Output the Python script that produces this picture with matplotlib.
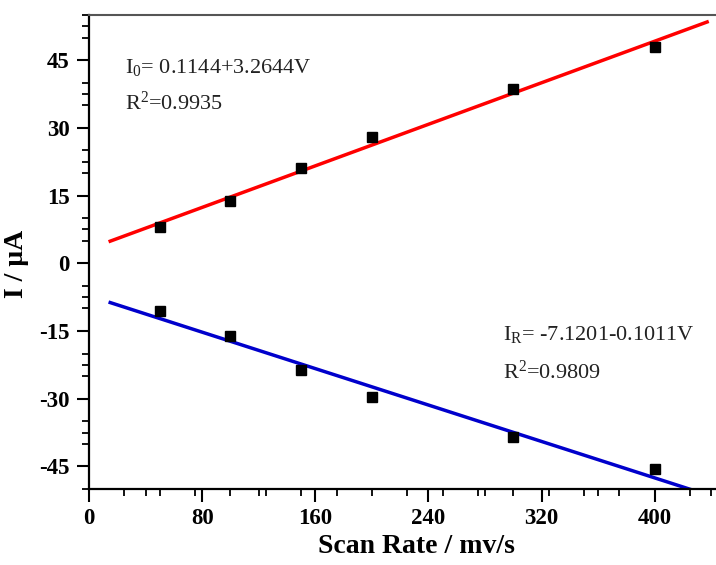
import numpy as np
import matplotlib
matplotlib.use("Agg")
from matplotlib import pyplot as plt
from matplotlib.ticker import FixedLocator

# datos
scan_rate = [50, 100, 150, 200, 300, 400]
i_oxid = [8.0, 13.7, 21.2, 27.9, 38.5, 47.8]
i_red = [-10.6, -16.2, -23.7, -29.6, -38.5, -45.6]
rango_ajuste = [15, 437]

texto_oxid = ["I$_0$= 0.1144+3.2644V", "R$^2$=0.9935"]
texto_red = ["I$_\\mathrm{R}$= -7.1201-0.1011V", "R$^2$=0.9809"]

x_major = [0, 80, 160, 240, 320, 400]
y_major = [-45, -30, -15, 0, 15, 30, 45]

plt.rcParams["font.family"] = ["Liberation Serif", "DejaVu Serif"]
plt.rcParams["mathtext.fontset"] = "custom"
plt.rcParams["mathtext.rm"] = "Liberation Serif"
plt.rcParams["mathtext.it"] = "Liberation Serif:italic"
plt.rcParams["mathtext.bf"] = "Liberation Serif:bold"
plt.rcParams["axes.unicode_minus"] = False

fig = plt.figure(figsize=(7.16, 5.65), dpi=100)
ax = fig.add_axes([0.1243, 0.1345, 0.889, 0.839])

# rectas de ajuste
xs = np.array(rango_ajuste, dtype=float)
p_ox = np.polyfit(scan_rate, i_oxid, 1)
p_red = np.polyfit(scan_rate, i_red, 1)
ax.plot(xs, np.polyval(p_ox, xs), color="#ff0000", lw=2.5, zorder=2)
ax.plot(xs, np.polyval(p_red, xs), color="#0000cc", lw=2.5, zorder=2)

ax.plot(scan_rate, i_oxid, "s", color="black", ms=7, zorder=3)
ax.plot(scan_rate, i_red, "s", color="black", ms=7, zorder=3)

ax.set_xlim(0, 450)
ax.set_ylim(-50, 55)

ax.set_xticks(x_major)
ax.set_yticks(y_major)

x_minor = sorted(set(list(range(0, 451, 25)) + list(range(0, 451, 40))) - set(x_major))
y_minor = sorted(set(list(np.arange(-50, 55.1, 5.0)) + list(np.arange(-45, 55.1, 7.5))) - set(y_major))
ax.xaxis.set_minor_locator(FixedLocator(x_minor))
ax.yaxis.set_minor_locator(FixedLocator(y_minor))

ax.tick_params(axis="both", which="major", direction="out", length=9, width=1.5,
               labelsize=16.5, pad=5)
ax.tick_params(axis="both", which="minor", direction="out", length=5, width=1.3)
for lab in ax.get_xticklabels() + ax.get_yticklabels():
    lab.set_fontweight("bold")

ax.spines["right"].set_visible(False)
ax.spines["left"].set_linewidth(1.6)
ax.spines["bottom"].set_linewidth(1.6)
ax.spines["top"].set_linewidth(1.5)
ax.spines["top"].set_color("#555555")

ax.set_xlabel("Scan Rate / mv/s", fontsize=20, fontweight="bold")
ax.set_ylabel("I / μA", fontsize=20, fontweight="bold")
ax.xaxis.set_label_coords(0.515, -0.095)
ax.yaxis.set_label_coords(-0.095, 0.475)

ax.text(0.057, 0.890, texto_oxid[0], transform=ax.transAxes, fontsize=16,
        color="#222222", va="center", ha="left")
ax.text(0.057, 0.814, texto_oxid[1], transform=ax.transAxes, fontsize=16,
        color="#222222", va="center", ha="left")
ax.text(0.650, 0.325, texto_red[0], transform=ax.transAxes, fontsize=16,
        color="#222222", va="center", ha="left")
ax.text(0.650, 0.247, texto_red[1], transform=ax.transAxes, fontsize=16,
        color="#222222", va="center", ha="left")

plt.savefig("out.png", dpi=100)
